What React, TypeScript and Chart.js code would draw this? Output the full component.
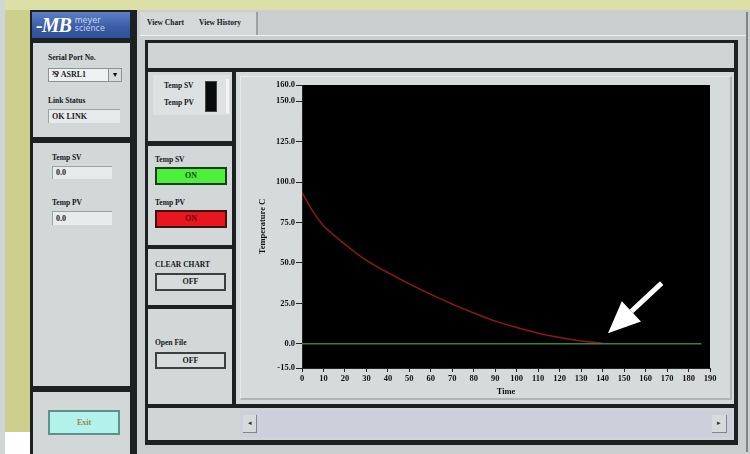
import React, { useEffect, useRef } from "react";
import { Chart, registerables } from "chart.js";

Chart.register(...registerables);

// ---- data ----
const timeSeconds = [0, 5, 10, 20, 30, 40, 50, 60, 70, 80, 90, 100, 110, 120, 130, 140];
const tempPV = [93.5, 82, 73, 61.5, 51.5, 44, 37, 30.5, 24.5, 19, 14, 10, 6.5, 3.8, 1.7, 0.3];
const svTimes = [0, 186];
const tempSV = [0, 0];
const yTickValues = [160, 150, 125, 100, 75, 50, 25, 0, -15];
const xMin = 0;
const xMax = 190;
const xStep = 10;
const yMin = -15;
const yMax = 160;
const arrowFrom = { x: 167.5, y: 37.5 };
const arrowTo = { x: 142.5, y: 6.5 };

const DARK = "#1c2222";
const PANEL = "#d2d7d7";
const uiFont = "'Liberation Serif', 'DejaVu Serif', serif";

const abs = (
  x: number,
  y: number,
  w: number,
  h: number,
  extra: React.CSSProperties = {}
): React.CSSProperties => ({
  position: "absolute",
  left: x,
  top: y,
  width: w,
  height: h,
  boxSizing: "border-box",
  ...extra,
});

const Label = ({ x, y, text, size = 8 }: { x: number; y: number; text: string; size?: number }) => (
  <div
    style={{
      position: "absolute",
      left: x,
      top: y,
      fontFamily: uiFont,
      fontWeight: "bold",
      fontSize: size,
      color: "#141818",
      whiteSpace: "nowrap",
      lineHeight: 1,
    }}
  >
    {text}
  </div>
);

const Field = ({ x, y, w, h, text }: { x: number; y: number; w: number; h: number; text: string }) => (
  <div
    style={abs(x, y, w, h, {
      background: "#e7ebeb",
      borderTop: "1px solid #9aa2a2",
      borderLeft: "1px solid #9aa2a2",
      fontFamily: uiFont,
      fontWeight: "bold",
      fontSize: 8,
      color: "#222",
      paddingLeft: 3,
      lineHeight: `${h - 1}px`,
    })}
  >
    {text}
  </div>
);

const Button = ({
  x,
  y,
  w,
  h,
  text,
  bg,
  border,
  color,
}: {
  x: number;
  y: number;
  w: number;
  h: number;
  text: string;
  bg: string;
  border: string;
  color: string;
}) => (
  <div
    style={abs(x, y, w, h, {
      background: bg,
      border: `2px solid ${border}`,
      fontFamily: uiFont,
      fontWeight: "bold",
      fontSize: 8,
      color,
      textAlign: "center",
      lineHeight: `${h - 4}px`,
    })}
  >
    {text}
  </div>
);

function TempChart() {
  const ref = useRef<HTMLCanvasElement | null>(null);
  useEffect(() => {
    if (!ref.current) return;
    const blackArea = {
      id: "blackArea",
      beforeDraw(chart: any) {
        const { ctx, chartArea } = chart;
        ctx.save();
        ctx.fillStyle = "#000";
        ctx.fillRect(chartArea.left, chartArea.top, chartArea.right - chartArea.left, chartArea.bottom - chartArea.top);
        ctx.restore();
      },
    };
    const arrow = {
      id: "arrow",
      afterDraw(chart: any) {
        const { ctx } = chart;
        const xs = chart.scales.x;
        const ys = chart.scales.y;
        const x0 = xs.getPixelForValue(arrowFrom.x);
        const y0 = ys.getPixelForValue(arrowFrom.y);
        const x1 = xs.getPixelForValue(arrowTo.x);
        const y1 = ys.getPixelForValue(arrowTo.y);
        const ang = Math.atan2(y1 - y0, x1 - x0);
        const headLen = 32;
        const headHalf = 14;
        const bx = x1 - headLen * Math.cos(ang);
        const by = y1 - headLen * Math.sin(ang);
        ctx.save();
        ctx.strokeStyle = "#fff";
        ctx.fillStyle = "#fff";
        ctx.lineWidth = 5;
        ctx.beginPath();
        ctx.moveTo(x0, y0);
        ctx.lineTo(bx, by);
        ctx.stroke();
        ctx.beginPath();
        ctx.moveTo(x1, y1);
        ctx.lineTo(bx + headHalf * Math.sin(ang), by - headHalf * Math.cos(ang));
        ctx.lineTo(bx - headHalf * Math.sin(ang), by + headHalf * Math.cos(ang));
        ctx.closePath();
        ctx.fill();
        ctx.restore();
      },
    };
    const tickFont = { family: uiFont, size: 8.5, weight: "bold" as const };
    const chart = new Chart(ref.current, {
      type: "line",
      data: {
        datasets: [
          {
            label: "Temp SV",
            data: svTimes.map((t, i) => ({ x: t, y: tempSV[i] })),
            borderColor: "#3f7f3a",
            borderWidth: 1.5,
            pointRadius: 0,
          },
          {
            label: "Temp PV",
            data: timeSeconds.map((t, i) => ({ x: t, y: tempPV[i] })),
            borderColor: "rgba(160,28,28,0.9)",
            borderWidth: 1.5,
            pointRadius: 0,
            tension: 0.3,
          },
        ],
      },
      options: {
        animation: false,
        responsive: false,
        maintainAspectRatio: false,
        layout: { padding: { top: 11, right: 22, bottom: 0, left: 0 } },
        plugins: { legend: { display: false }, tooltip: { enabled: false } },
        scales: {
          x: {
            type: "linear",
            min: xMin,
            max: xMax,
            ticks: { stepSize: xStep, autoSkip: false, maxRotation: 0, font: tickFont, color: "#111", padding: 2 },
            grid: { drawOnChartArea: false, tickLength: 4, tickColor: "#222" },
            border: { color: "#222" },
            title: { display: true, text: "Time", font: tickFont, color: "#111", padding: { top: 0, bottom: 5 } },
            afterFit: (s: any) => {
              s.height = 34;
            },
          },
          y: {
            type: "linear",
            min: yMin,
            max: yMax,
            afterBuildTicks: (s: any) => {
              s.ticks = yTickValues.map((v) => ({ value: v }));
            },
            ticks: {
              font: tickFont,
              color: "#111",
              padding: 1,
              callback: (v: any) => Number(v).toFixed(1),
            },
            grid: { drawOnChartArea: false, tickLength: 6, tickColor: "#222" },
            border: { color: "#222" },
            title: {
              display: true,
              text: "Temperature C",
              font: tickFont,
              color: "#111",
              padding: { top: 20, bottom: 0 },
            },
            afterFit: (s: any) => {
              s.width = 64;
            },
          },
        },
      },
      plugins: [blackArea, arrow],
    });
    return () => chart.destroy();
  }, []);
  return <canvas ref={ref} width={494} height={328} style={{ position: "absolute", left: 238, top: 74, width: 494, height: 328 }} />;
}

export default function App() {
  return (
    <div style={abs(0, 0, 750, 454, { background: "#d5d89c", overflow: "hidden" })}>
      {/* outer surroundings */}
      <div style={abs(0, 0, 750, 10, { background: "#dcdfa6" })} />
      <div style={abs(0, 0, 5, 454, { background: "#cfd6d6" })} />
      <div style={abs(5, 10, 25, 422, { background: "#cdd08c" })} />
      <div style={abs(5, 432, 25, 22, { background: "#ffffff" })} />

      {/* app window */}
      <div style={abs(30, 10, 720, 444, { background: "#c6cccc" })} />

      {/* left column */}
      <div style={abs(30, 10, 107, 444, { background: DARK })} />
      <div
        style={abs(32, 12, 98, 26, {
          background: "linear-gradient(180deg, #5d7fc4 0%, #3a5ca6 60%, #2f4f96 100%)",
          display: "flex",
          alignItems: "center",
          paddingLeft: 4,
          color: "#fff",
        })}
      >
        <span style={{ fontFamily: uiFont, fontStyle: "italic", fontWeight: "bold", fontSize: 20, letterSpacing: -1 }}>-MB</span>
        <span style={{ fontFamily: "'DejaVu Sans', sans-serif", fontSize: 8, lineHeight: "8px", marginLeft: 4, color: "#c9d6f0" }}>
          meyer
          <br />
          science
        </span>
      </div>
      <div style={abs(33, 43, 97, 94, { background: PANEL })} />
      <Label x={48} y={54} text="Serial Port No." size={7.5} />
      <div
        style={abs(48, 68, 74, 14, {
          background: "#eef1f1",
          border: "1px solid #8a9494",
          fontFamily: uiFont,
          fontWeight: "bold",
          fontSize: 8,
          lineHeight: "12px",
          paddingLeft: 3,
          color: "#222",
        })}
      >
        ⅋ ASRL1
      </div>
      <div
        style={abs(108, 69, 13, 12, {
          background: "#d7dcdc",
          borderLeft: "1px solid #8a9494",
          fontSize: 8,
          lineHeight: "12px",
          textAlign: "center",
          color: "#000",
        })}
      >
        ▾
      </div>
      <Label x={48} y={97} text="Link Status" size={7.5} />
      <Field x={48} y={109} w={72} h={14} text="OK LINK" />

      <div style={abs(33, 143, 97, 243, { background: PANEL })} />
      <Label x={52} y={154} text="Temp SV" size={7.5} />
      <Field x={52} y={166} w={60} h={13} text="0.0" />
      <Label x={52} y={199} text="Temp PV" size={7.5} />
      <Field x={52} y={211} w={60} h={14} text="0.0" />

      <div style={abs(33, 392, 97, 62, { background: PANEL })} />
      <Button x={48} y={410} w={72} h={25} text="Exit" bg="#b3f1eb" border="#5d9289" color="#9c8454" />

      {/* tab control */}
      <div style={abs(137, 10, 613, 444, { background: "#c9cfcf" })} />
      <div style={abs(140, 12, 118, 24, { background: "#d3d8d8", borderRight: "2px solid #9aa3a3" })} />
      <Label x={147} y={19} text="View Chart" size={7.5} />
      <Label x={199} y={19} text="View History" size={7.5} />
      <div style={abs(140, 35, 608, 1, { background: "#eef2f2" })} />
      <div style={abs(746, 12, 2, 440, { background: "#7d8686" })} />

      {/* inner frame */}
      <div style={abs(145, 40, 593, 405, { background: DARK })} />
      <div style={abs(148, 43, 586, 25, { background: "#cfd5d5" })} />

      <div style={abs(148, 72, 84, 69, { background: PANEL })} />
      <div style={abs(153, 75, 77, 40, { background: "#dde1e1" })} />
      <Label x={164} y={82} text="Temp SV" size={7.5} />
      <Label x={164} y={99} text="Temp PV" size={7.5} />
      <div style={abs(205, 81, 12, 31, { background: "#0a0c0c", border: "1px solid #444" })} />
      <div style={abs(226, 79, 3, 34, { background: "#f2f4f4" })} />

      <div style={abs(148, 146, 84, 99, { background: PANEL })} />
      <Label x={155} y={156} text="Temp SV" size={7.5} />
      <Button x={155} y={167} w={72} h={18} text="ON" bg="#4cf03c" border="#1e3c1e" color="#1b4a12" />
      <Label x={155} y={199} text="Temp PV" size={7.5} />
      <Button x={155} y={210} w={72} h={18} text="ON" bg="#e8161f" border="#3c1212" color="#5a0a0a" />

      <div style={abs(148, 249, 84, 56, { background: PANEL })} />
      <Label x={155} y={261} text="CLEAR CHART" size={7.5} />
      <Button x={155} y={273} w={71} h={18} text="OFF" bg="#d6dbdb" border="#394141" color="#141818" />

      <div style={abs(148, 309, 84, 95, { background: PANEL })} />
      <Label x={155} y={339} text="Open File" size={7.5} />
      <Button x={155} y={352} w={71} h={17} text="OFF" bg="#d6dbdb" border="#394141" color="#141818" />

      {/* chart panel */}
      <div style={abs(236, 72, 498, 332, { background: "#d5dada" })} />
      <div style={abs(240, 76, 492, 324, { border: "1px solid #e6eaea", borderRight: "2px solid #aeb6b6", borderBottom: "2px solid #aeb6b6" })} />
      <TempChart />

      {/* scroll bar */}
      <div style={abs(148, 408, 586, 32, { background: "#d0d6d6" })} />
      <div style={abs(240, 411, 492, 26, { background: "#cdcfdb" })} />
      <div
        style={abs(243, 415, 14, 18, {
          background: "#d6dada",
          borderRight: "1px solid #7e8888",
          borderBottom: "1px solid #7e8888",
          fontSize: 7,
          lineHeight: "17px",
          textAlign: "center",
          color: "#333",
        })}
      >
        ◂
      </div>
      <div
        style={abs(712, 415, 15, 18, {
          background: "#d6dada",
          borderRight: "1px solid #7e8888",
          borderBottom: "1px solid #7e8888",
          fontSize: 7,
          lineHeight: "17px",
          textAlign: "center",
          color: "#333",
        })}
      >
        ▸
      </div>
    </div>
  );
}
